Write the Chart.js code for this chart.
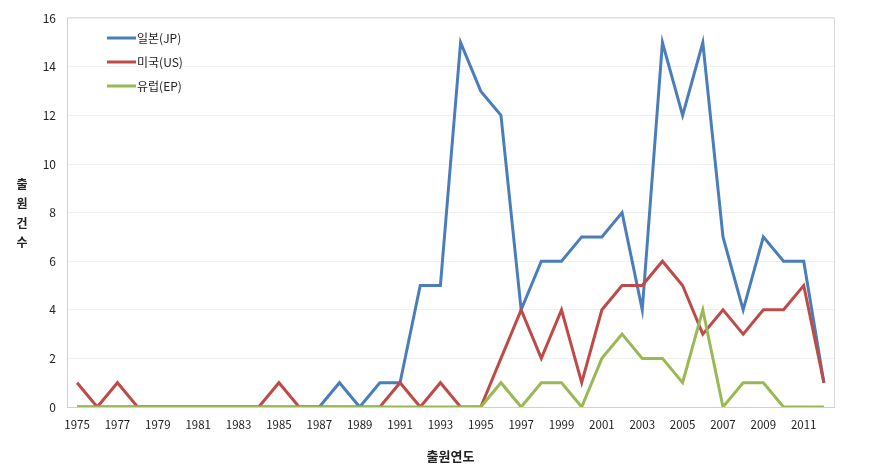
<!DOCTYPE html>
<html><head><meta charset="utf-8">
<script src="https://cdn.jsdelivr.net/npm/chart.js@4/dist/chart.umd.min.js"></script>
<style>html,body{margin:0;padding:0;background:#fff;}#wrap{width:881px;height:476px;position:relative;}</style>
</head><body><div id="wrap"><canvas id="c" width="881" height="476"></canvas></div>
<script>
const years = ["1975","1976","1977","1978","1979","1980","1981","1982","1983","1984","1985","1986","1987","1988","1989","1990","1991","1992","1993","1994","1995","1996","1997","1998","1999","2000","2001","2002","2003","2004","2005","2006","2007","2008","2009","2010","2011","2012"];
const jp = [0,0,0,0,0,0,0,0,0,0,0,0,0,1,0,1,1,5,5,15,13,12,4,6,6,7,7,8,4,15,12,15,7,4,7,6,6,1];
const us = [1,0,1,0,0,0,0,0,0,0,1,0,0,0,0,0,1,0,1,0,0,2,4,2,4,1,4,5,5,6,5,3,4,3,4,4,5,1];
const ep = [0,0,0,0,0,0,0,0,0,0,0,0,0,0,0,0,0,0,0,0,0,1,0,1,1,0,2,3,2,2,1,4,0,1,1,0,0,0];
const seriesNames = ["일본(JP)","미국(US)","유럽(EP)"];
const yTitle = "출원건수";
const xTitle = "출원연도";
const FONT = "'Noto Sans CJK KR', 'Noto Sans', sans-serif";

const framePlugin = {
  id: 'frame',
  beforeDatasetsDraw(chart) {
    const {ctx, chartArea: a} = chart;
    ctx.save();
    ctx.strokeStyle = '#dadada';
    ctx.lineWidth = 1;
    ctx.beginPath();
    ctx.moveTo(a.left, a.top - 0.5);
    ctx.lineTo(a.right + 0.5, a.top - 0.5);
    ctx.lineTo(a.right + 0.5, a.bottom);
    ctx.stroke();
    ctx.restore();
  }
};

const legendPlugin = {
  id: 'customLegend',
  afterDraw(chart) {
    const ctx = chart.ctx;
    ctx.save();
    chart.data.datasets.forEach((ds, i) => {
      const y = 38 + i * 24;
      ctx.strokeStyle = ds.borderColor;
      ctx.lineWidth = 3;
      ctx.beginPath(); ctx.moveTo(107, y); ctx.lineTo(136, y); ctx.stroke();
      ctx.fillStyle = '#222';
      ctx.font = '12px ' + FONT;
      ctx.textBaseline = 'middle';
      ctx.textAlign = 'left';
      ctx.fillText(ds.label, 137, y);
    });
    ctx.font = 'bold 12px ' + FONT;
    ctx.textAlign = 'center';
    ctx.textBaseline = 'middle';
    ctx.fillStyle = '#222';
    [...yTitle].forEach((ch, i) => ctx.fillText(ch, 22, 184 + i * 19.5));
    ctx.restore();
  }
};

new Chart(document.getElementById('c'), {
  type: 'line',
  data: {
    labels: years,
    datasets: [
      {label: seriesNames[0], data: jp, borderColor: '#4a7ebb', backgroundColor: '#4a7ebb', order: 2},
      {label: seriesNames[1], data: us, borderColor: '#be4b48', backgroundColor: '#be4b48', order: 1},
      {label: seriesNames[2], data: ep, borderColor: '#98b954', backgroundColor: '#98b954', order: 0}
    ].map(d => Object.assign(d, {borderWidth: 3, pointRadius: 0, tension: 0, fill: false, borderJoinStyle: 'miter'}))
  },
  options: {
    responsive: false,
    animation: false,
    layout: {padding: {left: 0, right: 47, top: 15, bottom: 0}},
    plugins: {legend: {display: false}, tooltip: {enabled: false}},
    scales: {
      x: {
        offset: true,
        grid: {display: false, drawTicks: false},
        border: {color: '#d0d0d0', width: 1},
        ticks: {autoSkip: false, maxRotation: 0, minRotation: 0, padding: 11, color: '#222',
          font: {size: 11.5, family: FONT},
          callback: function(v, i) { return i % 2 === 0 ? this.getLabelForValue(v) : ''; }},
        title: {display: true, text: xTitle, color: '#222', font: {size: 13, weight: 'bold', family: FONT}, padding: {top: 4, bottom: 12}},
        afterFit(s) { s.height = 69; }
      },
      y: {
        min: 0, max: 16,
        grid: {color: '#f0f0f0', drawTicks: false},
        border: {color: '#d0d0d0', width: 1},
        ticks: {stepSize: 2, padding: 11, color: '#222', font: {size: 12, family: FONT}},
        afterFit(s) { s.width = 67; }
      }
    }
  },
  plugins: [framePlugin, legendPlugin]
});
</script></body></html>
